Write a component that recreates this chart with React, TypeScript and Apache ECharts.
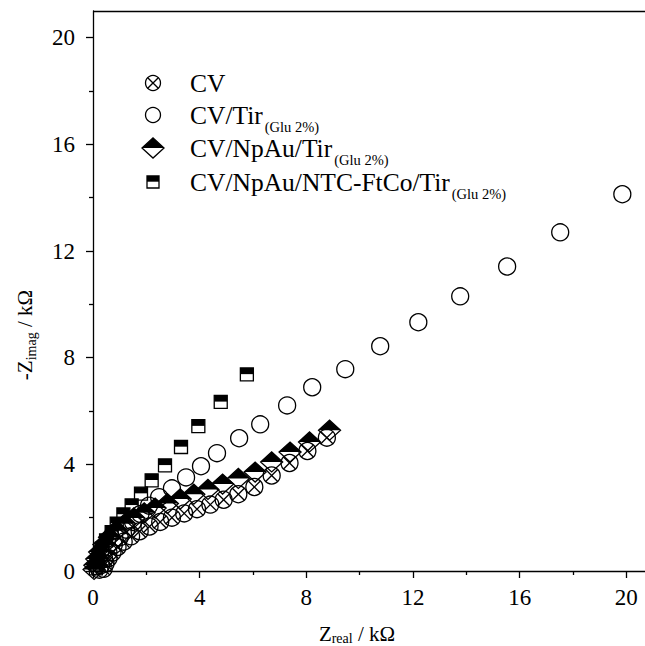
import React, { useEffect, useRef } from "react";
import * as echarts from "echarts";

// ---- data (kΩ) ----
const seriesNames = ["CV", "CV/Tir", "CV/NpAu/Tir", "CV/NpAu/NTC-FtCo/Tir"];
const legendSubscripts = ["", "(Glu 2%)", "(Glu 2%)", "(Glu 2%)"];
const majorTicks = [0, 4, 8, 12, 16, 20];
const minorTicks = [2, 6, 10, 14, 18];

const cvReal = [0.40, 0.47, 0.58, 0.73, 0.92, 1.15, 1.43, 1.75, 2.12, 2.52, 2.96, 3.42, 3.90, 4.40, 4.90, 5.45, 6.05, 6.70, 7.37, 8.04, 8.77];
const cvImag = [0.08, 0.28, 0.48, 0.69, 0.90, 1.10, 1.30, 1.49, 1.67, 1.84, 2.00, 2.16, 2.32, 2.49, 2.67, 2.88, 3.15, 3.58, 4.05, 4.50, 5.00];

const tirReal = [0.24, 0.30, 0.42, 0.58, 0.78, 1.00, 1.24, 1.50, 1.78, 2.10, 2.48, 2.96, 3.49, 4.05, 4.65, 5.48, 6.27, 7.28, 8.22, 9.46, 10.77, 12.20, 13.77, 15.53, 17.52, 19.85];
const tirImag = [0.05, 0.22, 0.45, 0.70, 0.98, 1.26, 1.55, 1.84, 2.14, 2.45, 2.77, 3.10, 3.51, 3.93, 4.42, 4.98, 5.50, 6.21, 6.89, 7.57, 8.43, 9.33, 10.30, 11.42, 12.70, 14.13];

const npAuReal = [0.04, 0.07, 0.14, 0.25, 0.41, 0.62, 0.88, 1.19, 1.53, 1.92, 2.33, 2.79, 3.27, 3.78, 4.31, 4.86, 5.45, 6.08, 6.70, 7.39, 8.12, 8.87];
const npAuImag = [0.06, 0.22, 0.45, 0.71, 0.99, 1.27, 1.53, 1.77, 1.99, 2.18, 2.36, 2.53, 2.70, 2.88, 3.06, 3.26, 3.47, 3.71, 4.09, 4.46, 4.84, 5.28];

const ntcReal = [0.11, 0.14, 0.20, 0.33, 0.49, 0.70, 0.89, 1.14, 1.45, 1.80, 2.20, 2.70, 3.30, 3.95, 4.79, 5.77];
const ntcImag = [0.10, 0.28, 0.53, 0.84, 1.15, 1.46, 1.78, 2.12, 2.46, 2.90, 3.40, 3.96, 4.65, 5.43, 6.34, 7.37];

const X_MAX = 20.7;
const Y_MAX = 21;

const FONT = '"Liberation Serif", "Times New Roman", serif';
const LW = 1.3;

type Kind = "xcircle" | "circle" | "diamond" | "square";
const kinds: Kind[] = ["xcircle", "circle", "diamond", "square"];

function marker(kind: Kind, cx: number, cy: number, legend = false): any {
  const stroke = { stroke: "#000", lineWidth: LW };
  if (kind === "xcircle" || kind === "circle") {
    const r = legend ? 7.5 : 8.5;
    const children: any[] = [
      { type: "circle", shape: { cx, cy, r }, style: { fill: "none", ...stroke } },
    ];
    if (kind === "xcircle") {
      const d = r * 0.707;
      children.push({ type: "line", shape: { x1: cx - d, y1: cy - d, x2: cx + d, y2: cy + d }, style: { ...stroke } });
      children.push({ type: "line", shape: { x1: cx - d, y1: cy + d, x2: cx + d, y2: cy - d }, style: { ...stroke } });
    }
    return { type: "group", children };
  }
  if (kind === "diamond") {
    const w = 11, h = 10;
    return {
      type: "group",
      children: [
        { type: "polygon", shape: { points: [[cx - w, cy], [cx, cy - h], [cx + w, cy]] }, style: { fill: "#000" } },
        { type: "polygon", shape: { points: [[cx - w, cy], [cx, cy - h], [cx + w, cy], [cx, cy + h]] }, style: { fill: "none", ...stroke } },
      ],
    };
  }
  const a = legend ? 6 : 6.5;
  return {
    type: "group",
    children: [
      { type: "rect", shape: { x: cx - a, y: cy - a, width: 2 * a, height: a * 0.95 }, style: { fill: "#000" } },
      { type: "rect", shape: { x: cx - a, y: cy - a, width: 2 * a, height: 2 * a }, style: { fill: "none", ...stroke } },
    ],
  };
}

function zip(xs: number[], ys: number[]) {
  return xs.map((x, i) => [x, ys[i]]);
}

const allData = [zip(cvReal, cvImag), zip(tirReal, tirImag), zip(npAuReal, npAuImag), zip(ntcReal, ntcImag)];

export default function App() {
  const ref = useRef<HTMLDivElement>(null);
  useEffect(() => {
    if (!ref.current) return;
    const chart = echarts.init(ref.current, undefined, { renderer: "svg" });

    const lineStyle = { color: "#000", width: LW };
    const labelStyle = { fontFamily: FONT, fontSize: 23, color: "#000" };

    const series: any[] = kinds.map((k, i) => ({
      type: "custom",
      name: seriesNames[i],
      coordinateSystem: "cartesian2d",
      xAxisIndex: 0,
      yAxisIndex: 0,
      clip: false,
      data: allData[i],
      encode: { x: 0, y: 1 },
      renderItem: (params: any, api: any) => {
        const p = api.coord([api.value(0), api.value(1)]);
        return marker(k, p[0], p[1]);
      },
    }));
    series.push({
      type: "line",
      xAxisIndex: 0,
      yAxisIndex: 0,
      data: [],
      markLine: {
        silent: true,
        symbol: "none",
        label: { show: false },
        lineStyle: { ...lineStyle, type: "solid" },
        data: [{ yAxis: Y_MAX }],
      },
    });

    const legendRows = [83, 115, 148, 182];
    const graphic: any[] = [];
    legendRows.forEach((y, i) => {
      graphic.push(marker(kinds[i], 153, y, true));
      const sub = legendSubscripts[i];
      graphic.push({
        type: "text",
        x: 190,
        y: y - 12.5,
        style: {
          text: sub ? `{m|${seriesNames[i]}}{s|${sub}}` : `{m|${seriesNames[i]}}`,
          verticalAlign: "top",
          align: "left",
          fill: "#000",
          rich: {
            m: { fontFamily: FONT, fontSize: 25.5, lineHeight: 25, fill: "#000", verticalAlign: "top" },
            s: { fontFamily: FONT, fontSize: 14.5, lineHeight: 32, fill: "#000", padding: [17, 0, 0, 2], verticalAlign: "bottom" },
          },
        },
      });
    });
    graphic.push({
      type: "text",
      x: 357,
      y: 634,
      style: {
        text: "{m|Z}{s|real}{m| / kΩ}",
        align: "center",
        verticalAlign: "middle",
        fill: "#000",
        rich: {
          m: { fontFamily: FONT, fontSize: 21, lineHeight: 21, fill: "#000", verticalAlign: "top" },
          s: { fontFamily: FONT, fontSize: 14, lineHeight: 22, fill: "#000", padding: [8, 0, 0, 0], verticalAlign: "bottom" },
        },
      },
    });
    graphic.push({
      type: "text",
      x: 26,
      y: 335,
      rotation: Math.PI / 2,
      style: {
        text: "{m|-Z}{s|imag}{m| / kΩ}",
        align: "center",
        verticalAlign: "middle",
        fill: "#000",
        rich: {
          m: { fontFamily: FONT, fontSize: 21, lineHeight: 21, fill: "#000", verticalAlign: "top" },
          s: { fontFamily: FONT, fontSize: 14, lineHeight: 24, fill: "#000", padding: [10, 0, 0, 0], verticalAlign: "bottom" },
        },
      },
    });

    chart.setOption({
      animation: false,
      backgroundColor: "#fff",
      grid: { left: 93, right: 0, top: 11, bottom: 75, containLabel: false },
      xAxis: [
        {
          type: "value",
          position: "bottom",
          min: 0,
          max: X_MAX,
          axisLine: { show: true, onZero: false, lineStyle },
          axisTick: { show: true, inside: false, length: 7, lineStyle, customValues: majorTicks },
          axisLabel: { ...labelStyle, margin: 15, customValues: majorTicks, formatter: (v: number) => String(v) },
          splitLine: { show: false },
        },
        {
          type: "value",
          position: "bottom",
          min: 0,
          max: X_MAX,
          axisLine: { show: false },
          axisTick: { show: true, inside: false, length: 4, lineStyle, customValues: minorTicks },
          axisLabel: { show: false },
          splitLine: { show: false },
        },
      ],
      yAxis: [
        {
          type: "value",
          position: "left",
          min: 0,
          max: Y_MAX,
          axisLine: { show: true, onZero: false, lineStyle },
          axisTick: { show: true, inside: false, length: 7, lineStyle, customValues: majorTicks },
          axisLabel: { ...labelStyle, margin: 18, customValues: majorTicks, formatter: (v: number) => String(v) },
          splitLine: { show: false },
        },
        {
          type: "value",
          position: "left",
          min: 0,
          max: Y_MAX,
          axisLine: { show: false },
          axisTick: { show: true, inside: false, length: 4, lineStyle, customValues: minorTicks },
          axisLabel: { show: false },
          splitLine: { show: false },
        },
      ],
      series,
      graphic,
    });
    return () => chart.dispose();
  }, []);
  return <div ref={ref} style={{ position: "fixed", left: 0, top: 0, width: 645, height: 646 }} />;
}
